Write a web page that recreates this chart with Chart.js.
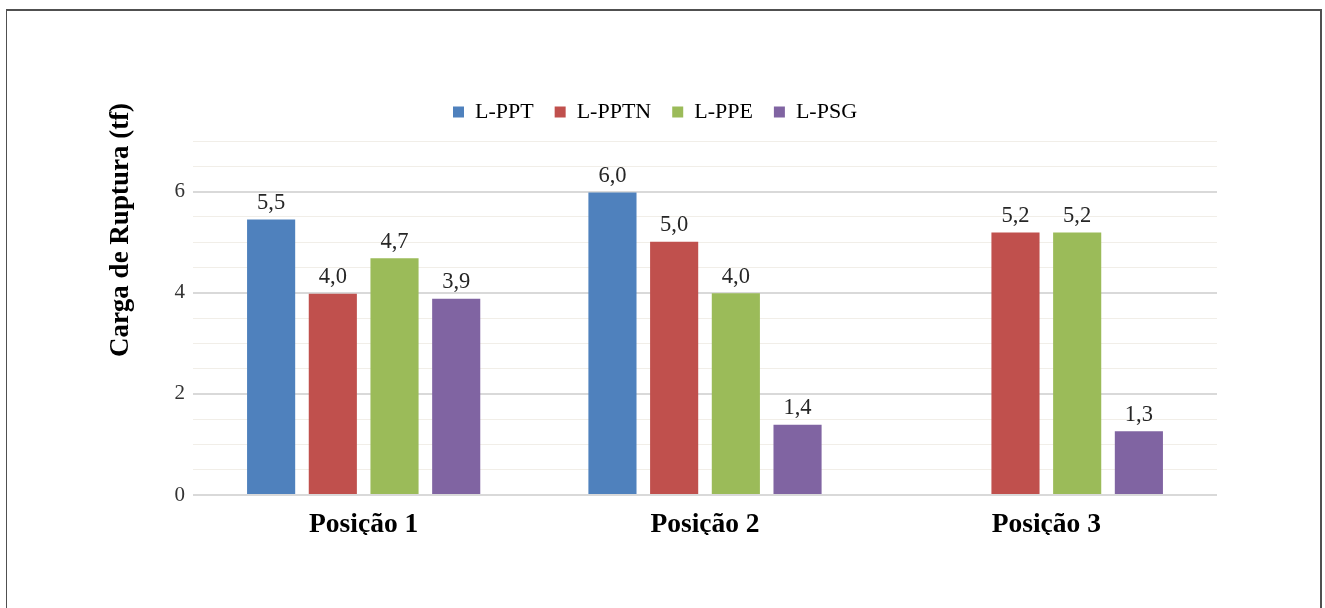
<!DOCTYPE html>
<html lang="pt">
<head>
<meta charset="utf-8">
<title>Carga de Ruptura</title>
<script src="https://cdn.jsdelivr.net/npm/chart.js@4.4.0/dist/chart.umd.min.js"></script>
<style>
    html, body { margin: 0; padding: 0; background: #fff; overflow: hidden; }
    #moldura {
        position: absolute;
        left: 6px; top: 9px;
        width: 1313px; height: 640px;
        border: 2px solid #505050;
        border-left-width: 1.5px;
    }
    #grafico { position: absolute; left: 0; top: 0; }
</style>
</head>
<body>
<div id="moldura"></div>
<canvas id="grafico" width="1325" height="608"></canvas>
<script>
// ========== DADOS ==========
const posicoes = ['Posição 1', 'Posição 2', 'Posição 3'];
const seriesNomes = ['L-PPT', 'L-PPTN', 'L-PPE', 'L-PSG'];
const valoresPPT  = [5.45, 5.98, null];
const valoresPPTN = [3.98, 5.01, 5.19];
const valoresPPE  = [4.68, 3.99, 5.19];
const valoresPSG  = [3.88, 1.39, 1.26];
const coresSeries = ['#4F81BD', '#C0504D', '#9BBB59', '#8064A2'];
const tituloEixoY = 'Carga de Ruptura (tf)';

const FONTE = "'Liberation Serif', 'Times New Roman', serif";

// ========== PLUGINS ==========
// altura fixa da legenda (espaço até a área do gráfico)
const alturaLegenda = {
    id: 'alturaLegenda',
    beforeInit(chart) {
        const fitOriginal = chart.legend.fit;
        chart.legend.fit = function() {
            fitOriginal.call(this);
            this.height = 61;
        };
    }
};

// rótulos de valor em cima de cada barra (vírgula decimal)
const rotulosBarras = {
    id: 'rotulosBarras',
    afterDatasetsDraw(chart) {
        const ctx = chart.ctx;
        ctx.save();
        ctx.font = '22.5px ' + FONTE;
        ctx.fillStyle = '#262626';
        ctx.textAlign = 'center';
        ctx.textBaseline = 'bottom';
        chart.data.datasets.forEach((ds, i) => {
            const meta = chart.getDatasetMeta(i);
            meta.data.forEach((barra, j) => {
                const v = ds.data[j];
                if (v === null || v === undefined) return;
                ctx.fillText(v.toFixed(1).replace('.', ','), barra.x, barra.y - 5);
            });
        });
        ctx.restore();
    }
};

// título do eixo Y (rotacionado, deslocado para cima como no original)
const tituloY = {
    id: 'tituloY',
    afterDraw(chart) {
        const ctx = chart.ctx;
        ctx.save();
        ctx.translate(121, 230);
        ctx.rotate(-Math.PI / 2);
        ctx.font = 'bold 27px ' + FONTE;
        ctx.fillStyle = '#000';
        ctx.textAlign = 'center';
        ctx.textBaseline = 'middle';
        ctx.fillText(tituloEixoY, 0, 0);
        ctx.restore();
    }
};

// ========== GRÁFICO ==========
const listaValores = [valoresPPT, valoresPPTN, valoresPPE, valoresPSG];

const datasets = seriesNomes.map((nome, i) => ({
    label: nome,
    data: listaValores[i],
    backgroundColor: coresSeries[i],
    borderWidth: 0,
    categoryPercentage: 0.723,
    barPercentage: 0.78
}));

new Chart(document.getElementById('grafico').getContext('2d'), {
    type: 'bar',
    data: {
        labels: posicoes,
        datasets: datasets
    },
    options: {
        responsive: false,
        animation: false,
        layout: {
            padding: { top: 80, left: 93, right: 108, bottom: 73 }
        },
        plugins: {
            legend: {
                display: true,
                position: 'top',
                labels: {
                    boxWidth: 11,
                    boxHeight: 11,
                    padding: 21,
                    color: '#000',
                    font: { family: FONTE, size: 22 }
                }
            },
            tooltip: { enabled: false }
        },
        scales: {
            x: {
                grid: { display: false },
                border: { display: false },
                ticks: {
                    color: '#000',
                    padding: 5,
                    font: { family: FONTE, size: 27.5, weight: 'bold' }
                },
                afterFit(scale) { scale.height = 40; }
            },
            y: {
                min: 0,
                max: 7,
                border: { display: false },
                grid: {
                    drawTicks: false,
                    color: (c) => (c.tick && c.tick.value % 2 === 0) ? '#d9d9d9' : '#f1eee8',
                    lineWidth: (c) => (c.tick && c.tick.value % 2 === 0) ? 2 : 1
                },
                ticks: {
                    stepSize: 0.5,
                    maxTicksLimit: 20,
                    autoSkip: false,
                    padding: 8,
                    color: '#333',
                    font: { family: FONTE, size: 21 },
                    callback: (v) => (v % 2 === 0 && v <= 6) ? String(v) : ''
                },
                afterFit(scale) { scale.width = 100; }
            }
        }
    },
    plugins: [alturaLegenda, rotulosBarras, tituloY]
});
</script>
</body>
</html>
